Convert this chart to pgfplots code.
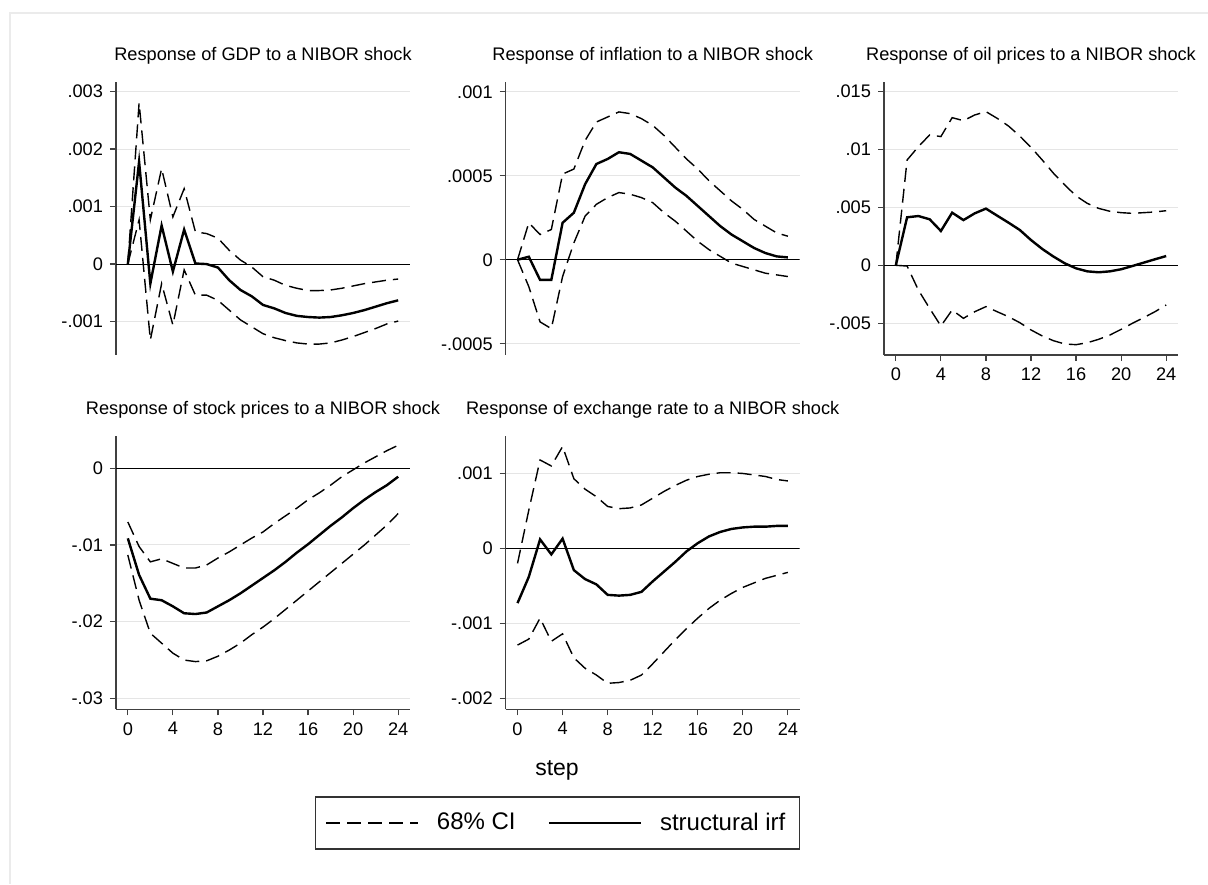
\documentclass[border=0pt]{standalone}
\usepackage{fontspec}
\setmainfont{Liberation Sans}
\usepackage{pgfplots}
\usepackage{pgfplotstable}
\pgfplotsset{compat=1.18}

\newcommand\tickfont{\fontsize{9.1}{10.5}\selectfont}

\pgfplotstableread{
step lo irf hi
0 0 0 0
1 0.00077 0.00178 0.0028
2 -0.00132 -0.00034 0.00077
3 -0.00034 0.00067 0.00166
4 -0.00106 -0.00013 0.00082
5 -0.0001 0.0006 0.00131
6 -0.00054 0.00001 0.00056
7 -0.00054 0.0 0.00053
8 -0.00063 -0.00006 0.00045
9 -0.0008 -0.00028 0.00024
10 -0.00097 -0.00045 0.00007
11 -0.00109 -0.00056 -0.00005
12 -0.00121 -0.00071 -0.00022
13 -0.00128 -0.00077 -0.00028
14 -0.00133 -0.00085 -0.00037
15 -0.00137 -0.0009 -0.00042
16 -0.00139 -0.00092 -0.00046
17 -0.00139 -0.00093 -0.00046
18 -0.00137 -0.00092 -0.00045
19 -0.00132 -0.00089 -0.00042
20 -0.00126 -0.00085 -0.00038
21 -0.00119 -0.0008 -0.00034
22 -0.00112 -0.00074 -0.00031
23 -0.00104 -0.00068 -0.00028
24 -0.00099 -0.00063 -0.00026
}\gdp

\pgfplotstableread{
step lo irf hi
0 0 0 0
1 -0.00016 0.000018 0.00022
2 -0.00037 -0.00012 0.00015
3 -0.00041 -0.00012 0.00018
4 -0.0001 0.00022 0.00051
5 0.0001 0.00028 0.00054
6 0.00026 0.00045 0.00071
7 0.00033 0.00057 0.00082
8 0.00037 0.0006 0.00085
9 0.0004 0.00064 0.00088
10 0.00039 0.00063 0.00087
11 0.00037 0.00059 0.00084
12 0.00034 0.00055 0.0008
13 0.00028 0.00049 0.00074
14 0.00023 0.00043 0.00067
15 0.00017 0.00038 0.0006
16 0.00011 0.00032 0.00054
17 0.00006 0.00026 0.00047
18 0.00002 0.0002 0.00041
19 -0.00002 0.00015 0.00035
20 -0.00004 0.00011 0.0003
21 -0.00006 0.00007 0.00024
22 -0.00008 0.00004 0.0002
23 -0.00009 0.00002 0.00016
24 -0.0001 0.000014 0.00014
}\infl

\pgfplotstableread{
step lo irf hi
0 0 0 0
1 -0.00006 0.00414 0.00908
2 -0.00213 0.00425 0.01023
3 -0.00371 0.00397 0.01124
4 -0.00523 0.00296 0.0111
5 -0.00385 0.00454 0.01273
6 -0.00457 0.0039 0.01247
7 -0.004 0.00448 0.01296
8 -0.00356 0.00489 0.01325
9 -0.004 0.00428 0.01267
10 -0.00443 0.00368 0.01201
11 -0.00494 0.00305 0.01115
12 -0.00557 0.00218 0.01017
13 -0.00609 0.00141 0.00908
14 -0.0065 0.00075 0.00793
15 -0.00678 0.00017 0.00693
16 -0.00684 -0.00026 0.00598
17 -0.00667 -0.00052 0.00534
18 -0.00638 -0.0006 0.00491
19 -0.00601 -0.00052 0.00466
20 -0.00552 -0.00034 0.00454
21 -0.005 -0.00006 0.00448
22 -0.00451 0.00023 0.00454
23 -0.004 0.00052 0.0046
24 -0.00342 0.0008 0.00471
}\oil

\pgfplotstableread{
step lo irf hi
0 -0.0113 -0.00913 -0.007
1 -0.0172 -0.0139 -0.0102
2 -0.0215 -0.017 -0.0122
3 -0.0228 -0.0172 -0.0118
4 -0.0241 -0.018 -0.0124
5 -0.025 -0.0189 -0.013
6 -0.0252 -0.019 -0.013
7 -0.0251 -0.0188 -0.0126
8 -0.0245 -0.018 -0.0117
9 -0.0237 -0.0172 -0.0109
10 -0.0228 -0.0163 -0.01
11 -0.0217 -0.0153 -0.0091
12 -0.0207 -0.0143 -0.0083
13 -0.0196 -0.0133 -0.0072
14 -0.0184 -0.0122 -0.0062
15 -0.0172 -0.011 -0.0052
16 -0.016 -0.0099 -0.0041
17 -0.0148 -0.0087 -0.0032
18 -0.0136 -0.0075 -0.0022
19 -0.0124 -0.0064 -0.0011
20 -0.0112 -0.0052 -0.0002
21 -0.01 -0.0041 0.0007
22 -0.0087 -0.0031 0.0015
23 -0.0074 -0.0022 0.0023
24 -0.0059 -0.0011 0.003
}\stock

\pgfplotstableread{
step lo irf hi
0 -0.00129 -0.00073 -0.0002
1 -0.00121 -0.00038 0.00051
2 -0.00093 0.00012 0.00118
3 -0.00124 -0.00008 0.0011
4 -0.00114 0.00013 0.00136
5 -0.00146 -0.00029 0.00093
6 -0.0016 -0.00041 0.00079
7 -0.00169 -0.00048 0.00069
8 -0.0018 -0.00062 0.00056
9 -0.00179 -0.00063 0.00053
10 -0.00176 -0.00062 0.00054
11 -0.00169 -0.00058 0.00058
12 -0.00154 -0.00044 0.00067
13 -0.00138 -0.00031 0.00076
14 -0.00122 -0.00018 0.00084
15 -0.00107 -0.00004 0.00091
16 -0.00093 0.00007 0.00096
17 -0.0008 0.00016 0.00099
18 -0.00069 0.00022 0.00101
19 -0.0006 0.00026 0.00101
20 -0.00052 0.00028 0.001
21 -0.00046 0.00029 0.00098
22 -0.0004 0.00029 0.00096
23 -0.00036 0.0003 0.00092
24 -0.00032 0.0003 0.0009
}\exch

\pgfplotsset{
  irf/.style={
    scale only axis, width=147pt, height=136.65pt,
    xmin=-1.05, xmax=25.05,
    axis lines*=left,
    axis line style={black!75, line width=0.7pt},
    tick align=outside, major tick length=3pt,
    tick style={black!75, line width=0.6pt},
    ymajorgrids, major grid style={black!10, line width=0.5pt},
    scaled y ticks=false,
    yticklabel style={font=\tickfont},
    xticklabel style={font=\tickfont},
    title style={font=\tickfont, at={(0.5,1)}, anchor=base, yshift=4.5pt},
    xtick={0,4,...,24}, xticklabels={0,4,8,12,16,20,24},
  },
  ci/.style={black, line width=0.7pt, dash pattern=on 7pt off 3.5pt},
  sirf/.style={black, line width=1.2pt},
  zline/.style={black, line width=0.55pt, forget plot},
}

\begin{document}
\begin{tikzpicture}
\useasboundingbox (0,0) rectangle (604pt,442pt);
\draw[black!8, line width=1pt] (5pt,0pt) -- (5pt,435.5pt) -- (604pt,435.5pt);

% GDP
\begin{axis}[irf, at={(58pt,264.5pt)}, anchor=south west,
  axis x line=none,
  ymin=-0.00158, ymax=0.00317,
  ytick={-0.001,0,0.001,0.002,0.003},
  yticklabels={-.001,0,.001,.002,.003},
  title={Response of GDP to a NIBOR shock}]
\addplot[zline] coordinates {(-1.05,0) (25.05,0)};
\addplot[ci] table[x=step,y=hi] {\gdp};
\addplot[ci] table[x=step,y=lo] {\gdp};
\addplot[sirf] table[x=step,y=irf] {\gdp};
\end{axis}

% inflation
\begin{axis}[irf, at={(252.85pt,264.5pt)}, anchor=south west,
  axis x line=none,
  ymin=-0.000567, ymax=0.00106,
  ytick={-0.0005,0,0.0005,0.001},
  yticklabels={-.0005,0,.0005,.001},
  title={Response of inflation to a NIBOR shock}]
\addplot[zline] coordinates {(-1.05,0) (25.05,0)};
\addplot[ci] table[x=step,y=hi] {\infl};
\addplot[ci] table[x=step,y=lo] {\infl};
\addplot[sirf] table[x=step,y=irf] {\infl};
\end{axis}

% oil
\begin{axis}[irf, at={(442pt,264.5pt)}, anchor=south west,
  ymin=-0.00773, ymax=0.01583,
  ytick={-0.005,0,0.005,0.01,0.015},
  yticklabels={-.005,0,.005,.01,.015},
  title={Response of oil prices to a NIBOR shock}]
\addplot[zline] coordinates {(-1.05,0) (25.05,0)};
\addplot[ci] table[x=step,y=hi] {\oil};
\addplot[ci] table[x=step,y=lo] {\oil};
\addplot[sirf] table[x=step,y=irf] {\oil};
\end{axis}

% stock
\begin{axis}[irf, at={(58pt,87.35pt)}, anchor=south west,
  ymin=-0.03142, ymax=0.00421,
  ytick={-0.03,-0.02,-0.01,0},
  yticklabels={-.03,-.02,-.01,0},
  title={Response of stock prices to a NIBOR shock}]
\addplot[zline] coordinates {(-1.05,0) (25.05,0)};
\addplot[ci] table[x=step,y=hi] {\stock};
\addplot[ci] table[x=step,y=lo] {\stock};
\addplot[sirf] table[x=step,y=irf] {\stock};
\end{axis}

% exchange rate
\begin{axis}[irf, at={(252.85pt,87.35pt)}, anchor=south west,
  ymin=-0.002147, ymax=0.0015,
  ytick={-0.002,-0.001,0,0.001},
  yticklabels={-.002,-.001,0,.001},
  title={Response of exchange rate to a NIBOR shock},
  legend style={at={(0.176,-0.4163)}, anchor=center, legend columns=2,
    draw=black!80, line width=0.8pt, font=\fontsize{12}{14}\selectfont,
    inner xsep=5pt, inner ysep=6pt,
    /tikz/every odd column/.append style={column sep=7pt},
    /tikz/every even column/.append style={column sep=14pt}},
  legend image code/.code={\draw[#1] (0pt,0pt) -- (46pt,0pt);}]
\addplot[zline] coordinates {(-1.05,0) (25.05,0)};
\addplot[ci] table[x=step,y=hi] {\exch};
\addlegendentry{68\% CI}
\addplot[ci, forget plot] table[x=step,y=lo] {\exch};
\addplot[sirf] table[x=step,y=irf] {\exch};
\addlegendentry{structural irf\hspace{7pt}}
\end{axis}

\node[font=\fontsize{11.5}{13}\selectfont] at (278.5pt,57pt) {step};
\end{tikzpicture}
\end{document}
